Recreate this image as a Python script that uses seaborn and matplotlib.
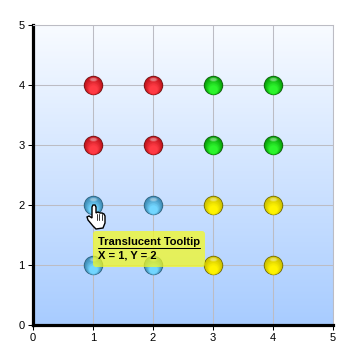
import numpy as np
import pandas as pd
import matplotlib
matplotlib.use("Agg")
import matplotlib.pyplot as plt
import seaborn as sns
from matplotlib.colors import LinearSegmentedColormap, to_rgb
from matplotlib.patches import FancyBboxPatch, Polygon
from matplotlib.path import Path
from matplotlib.transforms import Affine2D, ScaledTranslation

# Points of each group
red_x = [1, 2, 1, 2]
red_y = [3, 3, 4, 4]
green_x = [3, 4, 3, 4]
green_y = [3, 3, 4, 4]
blue_x = [1, 2, 1, 2]
blue_y = [1, 1, 2, 2]
yellow_x = [3, 4, 3, 4]
yellow_y = [1, 1, 2, 2]

tick_labels = ["0", "1", "2", "3", "4", "5"]
tooltip_title = "Translucent Tooltip"
tooltip_body = "X = 1, Y = 2"

# rim, top of ball, bottom of ball
red_shades = ("#701818", "#c0141c", "#ff3a44")
green_shades = ("#146014", "#08a008", "#2cf42c")
blue_shades = ("#2f6480", "#3f8ab4", "#72d6ff")
yellow_shades = ("#6e6808", "#ccc000", "#fff400")

sns.set_style("white")
plt.rcParams["font.family"] = ["Liberation Sans", "DejaVu Sans"]

fig = plt.figure(figsize=(3.6, 3.6), dpi=100)
ax = fig.add_axes([33 / 360, 35 / 360, 300 / 360, 300 / 360])

# Background gradient
bg_cmap = LinearSegmentedColormap.from_list("bg", ["#f8fbff", "#a8ccff"])
ax.imshow(np.linspace(0, 1, 300).reshape(-1, 1), cmap=bg_cmap, aspect="auto",
          extent=(0, 1, 0, 1), transform=ax.transAxes, zorder=0)


def mix(a, b, t):
    a, b = np.array(to_rgb(a)), np.array(to_rgb(b))
    return tuple(a + (b - a) * t)


def glossy(xs, ys, shades):
    df = pd.DataFrame({"x": xs, "y": ys})
    rim, top, bottom = shades
    # outer rim
    sns.scatterplot(data=df, x="x", y="y", s=196, color=rim, linewidth=0, ax=ax, zorder=3, legend=False)
    # body: circles that shrink and slide down, getting brighter
    steps = 12
    for i in range(steps):
        t = i / (steps - 1)
        d = 12.8 - 7.0 * t
        off = ScaledTranslation(0, -(12.8 - d) / 2 * 0.85 / 72, fig.dpi_scale_trans)
        sns.scatterplot(data=df, x="x", y="y", s=d ** 2, color=mix(top, bottom, t), linewidth=0, ax=ax,
                        zorder=3 + 0.01 * (i + 1), legend=False, transform=ax.transData + off)
    # highlight at the top
    ellipse = Path.unit_circle().transformed(Affine2D().scale(1, 0.5))
    off = ScaledTranslation(0, 4.2 / 72, fig.dpi_scale_trans)
    for size, alpha in [(36, 0.2), (18, 0.25)]:
        sns.scatterplot(data=df, x="x", y="y", s=size, color="white", alpha=alpha, linewidth=0, marker=ellipse,
                        ax=ax, zorder=3.5, legend=False, transform=ax.transData + off)


glossy(red_x, red_y, red_shades)
glossy(green_x, green_y, green_shades)
glossy(blue_x, blue_y, blue_shades)
glossy(yellow_x, yellow_y, yellow_shades)

ax.set_xlim(0, 5)
ax.set_ylim(0, 5)
ax.set_xticks(range(6), tick_labels)
ax.set_yticks(range(6), tick_labels)
ax.set_xlabel("")
ax.set_ylabel("")
ax.grid(True, color="#bcbcc4", linewidth=0.75, zorder=1)
ax.set_axisbelow(True)
ax.tick_params(axis="both", length=3.5, width=0.75, color="black", labelsize=8,
               labelcolor="black", pad=2.5, bottom=True, left=True)
for side in ["left", "bottom"]:
    ax.spines[side].set_color("black")
    ax.spines[side].set_linewidth(2.3)
for side in ["top", "right"]:
    ax.spines[side].set_color("#bcbcc4")
    ax.spines[side].set_linewidth(0.75)


# Overlay stuff is placed in pixels, y measured from the top like the picture
def px(x, y):
    return (x, 360 - y)


tip = FancyBboxPatch(px(96, 264), 106, 30, boxstyle="round,pad=3,rounding_size=3",
                     transform=None, facecolor="#f6fb1c", alpha=0.72, edgecolor="none", zorder=6)
fig.add_artist(tip)
fig.text(98 / 360, 1 - 242 / 360, tooltip_title, fontsize=8, fontweight="bold", color="black",
         va="center", ha="left", zorder=7)
fig.text(98 / 360, 1 - 255 / 360, tooltip_body, fontsize=8, fontweight="bold", color="black",
         va="center", ha="left", zorder=7)
fig.add_artist(plt.Line2D([98 / 360, 200 / 360], [1 - 248 / 360, 1 - 248 / 360], color="black",
                          linewidth=0.75, zorder=7))

# Hand cursor
hand = [(92, 207), (93, 205), (95, 205), (96, 207), (96, 213), (98, 212), (100, 213), (102, 213),
        (104, 214), (105, 216), (105, 223), (103, 228), (96, 229), (93, 226), (88, 220), (87, 217),
        (89, 216), (92, 218)]
fig.add_artist(Polygon([px(*p) for p in hand], closed=True, transform=None, facecolor="white",
                       edgecolor="black", linewidth=1.0, zorder=8))
for fx in [96.5, 99, 101.5]:
    fig.add_artist(plt.Line2D([fx / 360, fx / 360], [1 - 214 / 360, 1 - 220 / 360], color="#333333",
                              linewidth=0.7, zorder=9))

fig.savefig("out.png", dpi=100, facecolor="white")
